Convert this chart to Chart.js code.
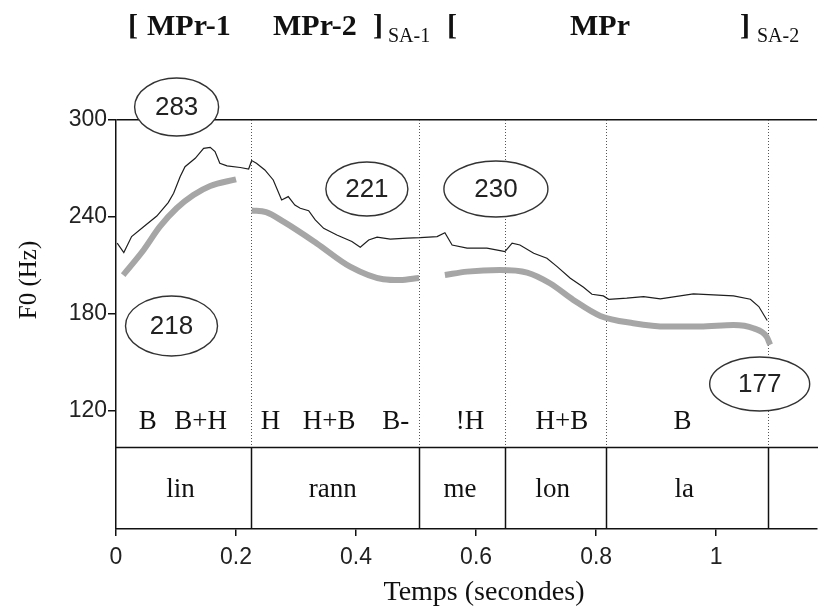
<!DOCTYPE html>
<html>
<head>
<meta charset="utf-8">
<script src="https://cdn.jsdelivr.net/npm/chart.js"></script>
<style>
  html, body { margin: 0; padding: 0; background: #fff; }
  #wrap { width: 818px; height: 609px; }
</style>
</head>
<body>
<div id="wrap"><canvas id="f0Chart" width="818" height="609"></canvas></div>
<script>
// raw F0 contour (seconds / Hz)
const f0Time = [0.002, 0.013, 0.026, 0.046, 0.068, 0.087, 0.096, 0.107, 0.115, 0.132,
                0.146, 0.157, 0.165, 0.173, 0.185, 0.207, 0.221, 0.226, 0.234, 0.248,
                0.262, 0.276, 0.287, 0.298, 0.307, 0.321, 0.332, 0.346, 0.368, 0.393,
                0.407, 0.421, 0.435, 0.457, 0.485, 0.507, 0.535, 0.548, 0.560, 0.585,
                0.618, 0.640, 0.648, 0.660, 0.673, 0.696, 0.718, 0.735, 0.757, 0.779,
                0.793, 0.812, 0.821, 0.851, 0.879, 0.907, 0.962, 1.029, 1.057, 1.071, 1.085];
const f0Hz = [223.8, 218, 227.9, 234, 240.6, 248.9, 254.7, 265, 271.1, 276.3,
              282.5, 283.1, 280.5, 273.2, 271.6, 270.6, 269.7, 274.9, 273.2, 269.1,
              262.9, 250.5, 252.6, 247.4, 245.4, 243.9, 238.2, 233.0, 228.9, 224.8,
              221.3, 225.8, 227.5, 226.3, 226.9, 227.2, 227.9, 230.3, 222.7, 220.7,
              220.7, 219.2, 218.6, 223.8, 222.7, 217.6, 214.5, 209.3, 202.1, 196.5,
              192.2, 191.2, 189.1, 189.8, 190.8, 189.3, 192.4, 191.2, 189.1, 184.6, 176];

// stylised contour, one piece per stretch
const styTime1 = [0.012, 0.046, 0.073, 0.101, 0.129, 0.157, 0.2];
const styHz1 = [204.1, 219.6, 234, 245.4, 253.6, 259.2, 263.3];
const styTime2 = [0.226, 0.25, 0.279, 0.334, 0.39, 0.4455, 0.473, 0.505];
const styHz2 = [244, 243, 237.1, 223.8, 209.3, 201.5, 201, 202.3];
const styTime3 = [0.548, 0.585, 0.64, 0.685, 0.723, 0.762, 0.807, 0.862, 0.918, 0.973, 1.029, 1.062, 1.084, 1.09];
const styHz3 = [204.1, 206.2, 207.2, 205.6, 199, 188.7, 178.8, 174.3, 172.2, 172.2, 173.2, 171.2, 166, 161];

const xTickValues = [0, 0.2, 0.4, 0.6, 0.8, 1];
const xTickLabels = ['0', '0.2', '0.4', '0.6', '0.8', '1'];
const yTickValues = [120, 180, 240, 300];

// syllable boundaries and tiers
const boundaries = [0.2245, 0.505, 0.648, 0.8167, 1.086];
const tierHz = 97.6;
const toneLabels = ['B', 'B+H', 'H', 'H+B', 'B-', '!H', 'H+B', 'B'];
const toneTimes = [0.053, 0.141, 0.2575, 0.355, 0.466, 0.59, 0.743, 0.944];
const toneRowHz = 109;
const syllables = ['lin', 'rann', 'me', 'lon', 'la'];
const syllableTimes = [0.1075, 0.361, 0.573, 0.7275, 0.947];
const syllableRowHz = 67;

// circled values
const calloutValues = ['283', '221', '230', '218', '177'];
const calloutTimes = [0.101, 0.418, 0.633, 0.0925, 1.0725];
const calloutHz = [308, 257.3, 257.3, 172.6, 136.7];

const toPoints = (xs, ys) => xs.map((t, i) => ({x: t, y: ys[i]}));

const serif = '"Liberation Serif", "Times New Roman", serif';
const sans = '"Liberation Sans", Arial, sans-serif';

const annotate = {
    id: 'annotate',
    beforeDatasetsDraw(chart) {
        const {ctx, chartArea, scales: {x, y}} = chart;
        const yTier = Math.round(y.getPixelForValue(tierHz)) + 0.5;
        ctx.save();
        // dotted boundaries in the F0 pane
        ctx.strokeStyle = '#555';
        ctx.lineWidth = 1;
        ctx.setLineDash([1, 2]);
        boundaries.forEach(t => {
            const px = Math.round(x.getPixelForValue(t)) + 0.5;
            ctx.beginPath();
            ctx.moveTo(px, chartArea.top);
            ctx.lineTo(px, yTier);
            ctx.stroke();
        });
        // solid boundaries in the syllable tier
        ctx.setLineDash([]);
        ctx.strokeStyle = '#111';
        ctx.lineWidth = 1.5;
        boundaries.forEach(t => {
            const px = Math.round(x.getPixelForValue(t)) + 0.5;
            ctx.beginPath();
            ctx.moveTo(px, yTier);
            ctx.lineTo(px, chartArea.bottom);
            ctx.stroke();
        });
        ctx.beginPath();
        ctx.moveTo(chartArea.left, yTier);
        ctx.lineTo(chartArea.right + 1, yTier);
        ctx.stroke();

        ctx.fillStyle = '#111';
        ctx.textAlign = 'center';
        ctx.textBaseline = 'alphabetic';
        ctx.font = '27px ' + serif;
        toneLabels.forEach((s, i) => {
            ctx.fillText(s, x.getPixelForValue(toneTimes[i]), y.getPixelForValue(toneRowHz));
        });
        syllables.forEach((s, i) => {
            ctx.fillText(s, x.getPixelForValue(syllableTimes[i]), y.getPixelForValue(syllableRowHz));
        });
        ctx.restore();
    },
    afterDraw(chart) {
        const {ctx, scales: {x, y}} = chart;
        ctx.save();
        // circled values
        const radii = [[42, 29], [41, 27], [52, 28], [46, 30], [50, 27]];
        calloutValues.forEach((v, i) => {
            const cx = x.getPixelForValue(calloutTimes[i]);
            const cy = y.getPixelForValue(calloutHz[i]);
            ctx.beginPath();
            ctx.ellipse(cx, cy, radii[i][0], radii[i][1], 0, 0, Math.PI * 2);
            ctx.fillStyle = '#fff';
            ctx.fill();
            ctx.strokeStyle = '#333';
            ctx.lineWidth = 1.4;
            ctx.stroke();
            ctx.fillStyle = '#222';
            ctx.font = '26px ' + sans;
            ctx.textAlign = 'center';
            ctx.textBaseline = 'middle';
            ctx.fillText(v, cx, cy + 1);
        });

        // header with bracketed phrases
        ctx.fillStyle = '#111';
        ctx.textAlign = 'left';
        ctx.textBaseline = 'alphabetic';
        ctx.font = 'bold 30px ' + serif;
        [['[', 128], ['MPr-1', 147], ['MPr-2', 273], [']', 373], ['[', 447], ['MPr', 570], [']', 740]]
            .forEach(([s, px]) => ctx.fillText(s, px, 35));
        ctx.font = '20px ' + serif;
        ctx.fillText('SA-1', 388, 42);
        ctx.fillText('SA-2', 757, 42);

        // axis titles
        ctx.font = '28px ' + serif;
        ctx.textAlign = 'center';
        ctx.fillText('Temps (secondes)', 484, 600);
        ctx.translate(29, 280);
        ctx.rotate(-Math.PI / 2);
        ctx.font = '25px ' + serif;
        ctx.textBaseline = 'middle';
        ctx.fillText('F0 (Hz)', 0, 0);
        ctx.restore();
    }
};

const ctx = document.getElementById('f0Chart').getContext('2d');
const f0Chart = new Chart(ctx, {
    type: 'line',
    data: {
        datasets: [
            {
                label: 'stylised 1',
                data: toPoints(styTime1, styHz1),
                borderColor: '#a6a6a6',
                borderWidth: 6,
                tension: 0.4,
                cubicInterpolationMode: 'monotone',
                pointRadius: 0
            },
            {
                label: 'stylised 2',
                data: toPoints(styTime2, styHz2),
                borderColor: '#a6a6a6',
                borderWidth: 6,
                tension: 0.4,
                cubicInterpolationMode: 'monotone',
                pointRadius: 0
            },
            {
                label: 'stylised 3',
                data: toPoints(styTime3, styHz3),
                borderColor: '#a6a6a6',
                borderWidth: 6,
                tension: 0.4,
                cubicInterpolationMode: 'monotone',
                pointRadius: 0
            },
            {
                label: 'F0',
                data: toPoints(f0Time, f0Hz),
                borderColor: '#1e1e1e',
                borderWidth: 1.2,
                tension: 0,
                pointRadius: 0
            }
        ]
    },
    options: {
        responsive: false,
        animation: false,
        layout: { padding: { top: 120, right: 1, left: 0, bottom: 0 } },
        plugins: {
            legend: { display: false },
            tooltip: { enabled: false }
        },
        scales: {
            x: {
                type: 'linear',
                min: 0,
                max: 1.168,
                afterBuildTicks: scale => { scale.ticks = xTickValues.map(v => ({value: v})); },
                afterFit: scale => { scale.height = 80; },
                ticks: {
                    color: '#222',
                    font: { family: sans, size: 23 },
                    padding: 8,
                    maxRotation: 0,
                    callback: (v, i) => xTickLabels[i]
                },
                grid: { drawOnChartArea: false, tickColor: '#111', tickLength: 7, lineWidth: 1.5 },
                border: { display: true, color: '#111', width: 1.5 }
            },
            y: {
                min: 47,
                max: 300,
                afterBuildTicks: scale => { scale.ticks = yTickValues.map(v => ({value: v})); },
                afterFit: scale => { scale.width = 116; },
                ticks: {
                    color: '#222',
                    font: { family: sans, size: 23 },
                    padding: 1
                },
                grid: {
                    color: c => (c.tick && c.tick.value === 300 ? '#111' : 'rgba(0,0,0,0)'),
                    tickColor: '#111',
                    tickLength: 8,
                    lineWidth: 1.5
                },
                border: { display: true, color: '#111', width: 1.5 }
            }
        }
    },
    plugins: [annotate]
});
</script>
</body>
</html>
